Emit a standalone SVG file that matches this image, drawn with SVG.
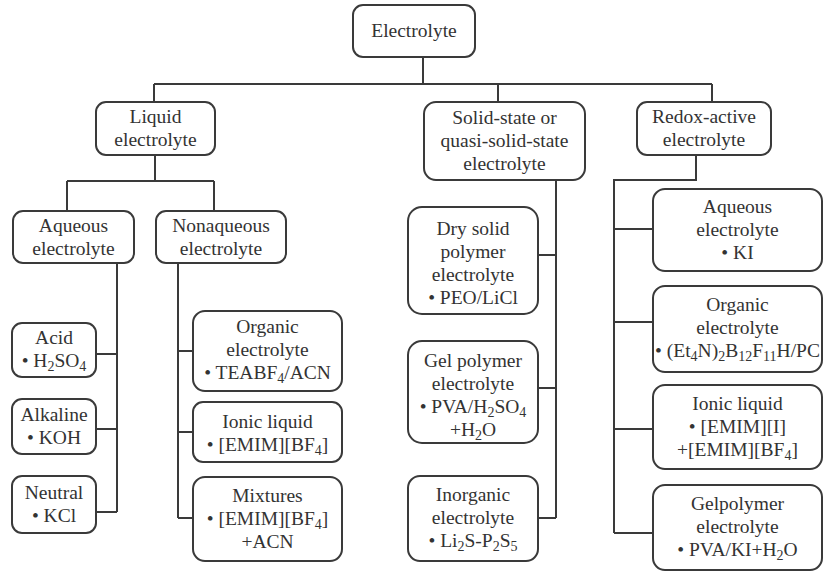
<svg xmlns="http://www.w3.org/2000/svg" width="824" height="572" viewBox="0 0 824 572">
<style>
.b{fill:#fff;stroke:#3a3a3a;stroke-width:2}
.c{fill:none;stroke:#3a3a3a;stroke-width:2}
text{font-family:"Liberation Serif","Times New Roman",serif;font-size:19.5px;fill:#333;text-anchor:middle}
.s{font-size:14px}
</style>
<rect width="824" height="572" fill="#fff"/>
<g id="connectors">
<path class="c" d="M423 57V84M154 84H712M154 84V102M498 84V102M712 84V102"/>
<path class="c" d="M155 155V181M67 181H214M67 181V211M214 181V211"/>
<path class="c" d="M117 263V512M96 354H117M96 429H117M96 512H117"/>
<path class="c" d="M178 263V518M178 351H193M178 432H193M178 518H193"/>
<path class="c" d="M556 180V518M538 255H556M538 388H556M538 518H556"/>
<path class="c" d="M696 155V180H614V533M614 229H653M614 322H653M614 429H653M614 533H653"/>
</g>
<g id="electrolyte"><rect class="b" x="353" y="5" width="122" height="52" rx="10"/><text x="414" y="37">Electrolyte</text></g>
<g id="liquid"><rect class="b" x="96" y="102" width="119" height="53" rx="10"/><text x="155.5" y="123">Liquid</text><text x="155.5" y="146">electrolyte</text></g>
<g id="solid"><rect class="b" x="424" y="102" width="161" height="78" rx="12"/><text x="504.5" y="124">Solid-state or</text><text x="504.5" y="147">quasi-solid-state</text><text x="504.5" y="170">electrolyte</text></g>
<g id="redox"><rect class="b" x="637" y="102" width="134" height="53" rx="10"/><text x="704" y="123">Redox-active</text><text x="704" y="146">electrolyte</text></g>
<g id="aqueous"><rect class="b" x="13" y="211" width="121" height="52" rx="10"/><text x="73.5" y="232">Aqueous</text><text x="73.5" y="255">electrolyte</text></g>
<g id="nonaqueous"><rect class="b" x="156" y="211" width="130" height="52" rx="10"/><text x="221" y="232">Nonaqueous</text><text x="221" y="255">electrolyte</text></g>
<g id="acid"><rect class="b" x="12" y="323" width="84" height="54" rx="10"/><text x="54" y="344">Acid</text><text x="54" y="367">• H<tspan class="s" dy="4">2</tspan><tspan dy="-4">SO</tspan><tspan class="s" dy="4">4</tspan></text></g>
<g id="alkaline"><rect class="b" x="12" y="399" width="84" height="55" rx="10"/><text x="54" y="421">Alkaline</text><text x="54" y="444">• KOH</text></g>
<g id="neutral"><rect class="b" x="12" y="476" width="84" height="57" rx="10"/><text x="54" y="499">Neutral</text><text x="54" y="522">• KCl</text></g>
<g id="organic1"><rect class="b" x="193" y="311" width="149" height="80" rx="12"/><text x="267.5" y="333">Organic</text><text x="267.5" y="356">electrolyte</text><text x="267.5" y="379">• TEABF<tspan class="s" dy="4">4</tspan><tspan dy="-4">/ACN</tspan></text></g>
<g id="ionic1"><rect class="b" x="193" y="402" width="149" height="60" rx="10"/><text x="267.5" y="428">Ionic liquid</text><text x="267.5" y="451">• [EMIM][BF<tspan class="s" dy="4">4</tspan><tspan dy="-4">]</tspan></text></g>
<g id="mixtures"><rect class="b" x="193" y="477" width="149" height="84" rx="12"/><text x="267.5" y="502">Mixtures</text><text x="267.5" y="525">• [EMIM][BF<tspan class="s" dy="4">4</tspan><tspan dy="-4">]</tspan></text><text x="267.5" y="548">+ACN</text></g>
<g id="dry"><rect class="b" x="408" y="207" width="130" height="107" rx="14"/><text x="473" y="235">Dry solid</text><text x="473" y="258">polymer</text><text x="473" y="281">electrolyte</text><text x="473" y="304">• PEO/LiCl</text></g>
<g id="gel"><rect class="b" x="408" y="341" width="130" height="102" rx="14"/><text x="473" y="367">Gel polymer</text><text x="473" y="390">electrolyte</text><text x="473" y="413">• PVA/H<tspan class="s" dy="4">2</tspan><tspan dy="-4">SO</tspan><tspan class="s" dy="4">4</tspan></text><text x="473" y="436">+H<tspan class="s" dy="4">2</tspan><tspan dy="-4">O</tspan></text></g>
<g id="inorganic"><rect class="b" x="408" y="476" width="130" height="85" rx="12"/><text x="473" y="501">Inorganic</text><text x="473" y="524">electrolyte</text><text x="473" y="547">• Li<tspan class="s" dy="4">2</tspan><tspan dy="-4">S-P</tspan><tspan class="s" dy="4">2</tspan><tspan dy="-4">S</tspan><tspan class="s" dy="4">5</tspan></text></g>
<g id="aqueous2"><rect class="b" x="653" y="189" width="169" height="82" rx="12"/><text x="737.5" y="213">Aqueous</text><text x="737.5" y="236">electrolyte</text><text x="737.5" y="259">• KI</text></g>
<g id="organic2"><rect class="b" x="653" y="286" width="169" height="86" rx="12"/><text x="737.5" y="311">Organic</text><text x="737.5" y="334">electrolyte</text><text x="737.5" y="357">• (Et<tspan class="s" dy="4">4</tspan><tspan dy="-4">N)</tspan><tspan class="s" dy="4">2</tspan><tspan dy="-4">B</tspan><tspan class="s" dy="4">12</tspan><tspan dy="-4">F</tspan><tspan class="s" dy="4">11</tspan><tspan dy="-4">H/PC</tspan></text></g>
<g id="ionic2"><rect class="b" x="653" y="385" width="169" height="84" rx="12"/><text x="737.5" y="410">Ionic liquid</text><text x="737.5" y="433">• [EMIM][I]</text><text x="737.5" y="456">+[EMIM][BF<tspan class="s" dy="4">4</tspan><tspan dy="-4">]</tspan></text></g>
<g id="gel2"><rect class="b" x="653" y="485" width="169" height="85" rx="12"/><text x="737.5" y="510">Gelpolymer</text><text x="737.5" y="533">electrolyte</text><text x="737.5" y="556">• PVA/KI+H<tspan class="s" dy="4">2</tspan><tspan dy="-4">O</tspan></text></g>
</svg>
